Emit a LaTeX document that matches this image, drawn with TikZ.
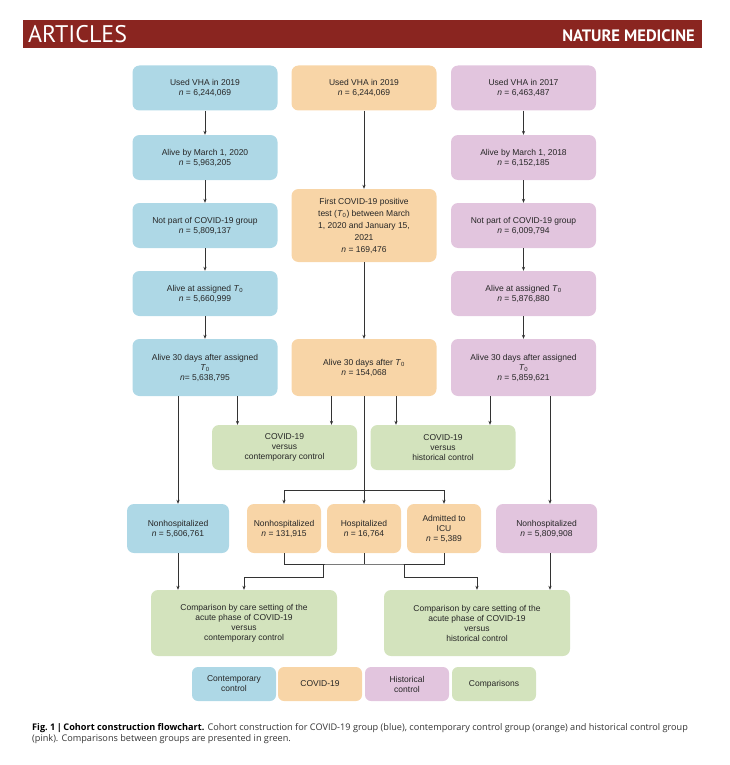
\documentclass[tikz,border=0pt]{standalone}
\usepackage{fontspec}
\setmainfont{Liberation Sans}
\newfontfamily\ptsans{PT Sans}
\newfontfamily\capfont{Open Sans}
\usetikzlibrary{arrows.meta}
\definecolor{hdrred}{HTML}{8A2520}
\definecolor{cblue}{HTML}{AED8E6}
\definecolor{corange}{HTML}{F8D5A7}
\definecolor{cpink}{HTML}{E2C5DE}
\definecolor{cgreen}{HTML}{D3E3BD}
\definecolor{wirecol}{HTML}{333333}
\newcommand{\nn}{\textit{n}}
\newcommand{\tzero}{\textit{T}\textsubscript{0}}
\begin{document}
\begin{tikzpicture}[x=1pt,y=-1pt,
  box/.style={rounded corners=7pt,inner sep=0pt,align=center,minimum width=145pt,minimum height=45pt,font=\fontsize{8.5}{10}\selectfont,text=black!85},
  arr/.style={-{Stealth[length=4pt,width=3.2pt]},line width=0.7pt,draw=wirecol},
  wire/.style={line width=0.7pt,draw=wirecol}]
\useasboundingbox (0,0) rectangle (729,765);

\fill[hdrred] (23,20) rectangle (702,48);
\node[anchor=west,inner sep=0pt,text=white,font=\ptsans\fontsize{24}{24}\selectfont] (hdleft) at (28,34.5) {ARTICLES};
\node[anchor=east,inner sep=0pt,text=white,font=\ptsans\bfseries\fontsize{16.5}{16.5}\selectfont] (hdright) at (695,35.5) {NATURE MEDICINE};

\node[box,fill=cblue] (b1) at (205,88) {Used VHA in 2019\\\nn{} = 6,244,069};
\node[box,fill=corange] (o1) at (364,88) {Used VHA in 2019\\\nn{} = 6,244,069};
\node[box,fill=cpink] (p1) at (523.5,88) {Used VHA in 2017\\\nn{} = 6,463,487};

\node[box,fill=cblue] (b2) at (205,157.5) {Alive by March 1, 2020\\\nn{} = 5,963,205};
\node[box,fill=cpink] (p2) at (523.5,157.5) {Alive by March 1, 2018\\\nn{} = 6,152,185};

\node[box,fill=corange,minimum height=73pt,font=\fontsize{8.5}{12}\selectfont] (o2) at (364,225.5) {First COVID-19 positive\\test (\tzero) between March\\1, 2020 and January 15,\\2021\\\nn{} = 169,476};
\node[box,fill=cblue] (b3) at (205,225.5) {Not part of COVID-19 group\\\nn{} = 5,809,137};
\node[box,fill=cpink] (p3) at (523.5,225.5) {Not part of COVID-19 group\\\nn{} = 6,009,794};

\node[box,fill=cblue] (b4) at (205,293.5) {Alive at assigned \tzero\\\nn{} = 5,660,999};
\node[box,fill=cpink] (p4) at (523.5,293.5) {Alive at assigned \tzero\\\nn{} = 5,876,880};

\node[box,fill=cblue,minimum height=57pt] (b5) at (205,367.5) {Alive 30 days after assigned\\\tzero\\\nn= 5,638,795};
\node[box,fill=corange,minimum height=57pt] (o3) at (364,367.5) {Alive 30 days after \tzero\\\nn{} = 154,068};
\node[box,fill=cpink,minimum height=57pt] (p5) at (523.5,367.5) {Alive 30 days after assigned\\\tzero\\\nn{} = 5,859,621};

\node[box,fill=cgreen] (g1) at (284.5,447.5) {COVID-19\\versus\\contemporary control};
\node[box,fill=cgreen] (g2) at (443,447.5) {COVID-19\\versus\\historical control};

\node[box,fill=cblue,minimum width=102pt,minimum height=49pt] (b6) at (178,528.5) {Nonhospitalized\\\nn{} = 5,606,761};
\node[box,fill=corange,minimum width=74pt,minimum height=49pt] (o4) at (284,528.5) {Nonhospitalized\\\nn{} = 131,915};
\node[box,fill=corange,minimum width=74pt,minimum height=49pt] (o5) at (364,528.5) {Hospitalized\\\nn{} = 16,764};
\node[box,fill=corange,minimum width=74pt,minimum height=49pt] (o6) at (444,528.5) {Admitted to\\ICU\\\nn{} = 5,389};
\node[box,fill=cpink,minimum width=101pt,minimum height=49pt] (p6) at (546.5,528.5) {Nonhospitalized\\\nn{} = 5,809,908};

\node[box,fill=cgreen,minimum width=186pt,minimum height=66pt] (gl) at (244,623) {Comparison by care setting of the\\acute phase of COVID-19\\versus\\contemporary control};
\node[box,fill=cgreen,minimum width=186pt,minimum height=66pt] (gr) at (477,623) {Comparison by care setting of the\\acute phase of COVID-19\\versus\\historical control};

\node[box,fill=cblue,minimum width=84pt,minimum height=34pt,rounded corners=6pt] (l1) at (234,684) {Contemporary\\control};
\node[box,fill=corange,minimum width=84pt,minimum height=34pt,rounded corners=6pt] (l2) at (320,684) {COVID-19};
\node[box,fill=cpink,minimum width=84pt,minimum height=34pt,rounded corners=6pt] (l3) at (407,684) {Historical\\control};
\node[box,fill=cgreen,minimum width=84pt,minimum height=34pt,rounded corners=6pt] (l4) at (494,684) {Comparisons};

\foreach \a/\b in {b1/b2,b2/b3,b3/b4,b4/b5,p1/p2,p2/p3,p3/p4,p4/p5,o1/o2,o2/o3,o3/o5}
  \draw[arr] (\a) -- (\b);

\draw[arr] ([xshift=-47pt]g1.north |- b5.south) -- ([xshift=-47pt]g1.north);
\draw[arr] ([xshift=47pt]g1.north |- o3.south) -- ([xshift=47pt]g1.north);
\draw[arr] ([xshift=-47pt]g2.north |- o3.south) -- ([xshift=-47pt]g2.north);
\draw[arr] ([xshift=47pt]g2.north |- p5.south) -- ([xshift=47pt]g2.north);

\coordinate (split) at (364,490);
\draw[arr] (split) -| (o4.north);
\draw[arr] (split) -| (o6.north);

\draw[arr] (b5.south -| b6.north) -- (b6.north);
\draw[arr] (b6.south) -- (b6.south |- gl.north);
\coordinate (pcol) at (550,0);
\draw[arr] (p5.south -| pcol) -- (p6.north -| pcol);
\draw[arr] (p6.south -| pcol) -- (gr.north -| pcol);

\coordinate (merge) at (364,564);
\coordinate (mleft) at (323,564);
\coordinate (mright) at (404,564);
\draw[wire] (o4.south) |- (merge) -| (o6.south);
\draw[wire] (o5.south) -- (merge);
\draw[arr] (mleft) -- ++(0,13) -| (gl.north);
\draw[arr] (mright) -- ++(0,13) -| (gr.north);

\node[anchor=west,inner sep=0pt,text=black!80,font=\capfont\fontsize{9.15}{11}\selectfont] (cap1) at (32,728) {\textcolor{black}{\bfseries Fig.~1\,|\,Cohort construction flowchart.} Cohort construction for COVID-19 group (blue), contemporary control group (orange) and historical control group};
\node[anchor=west,inner sep=0pt,text=black!80,font=\capfont\fontsize{9.15}{11}\selectfont] (cap2) at (32,739.5) {(pink). Comparisons between groups are presented in green.};
\end{tikzpicture}
\end{document}
